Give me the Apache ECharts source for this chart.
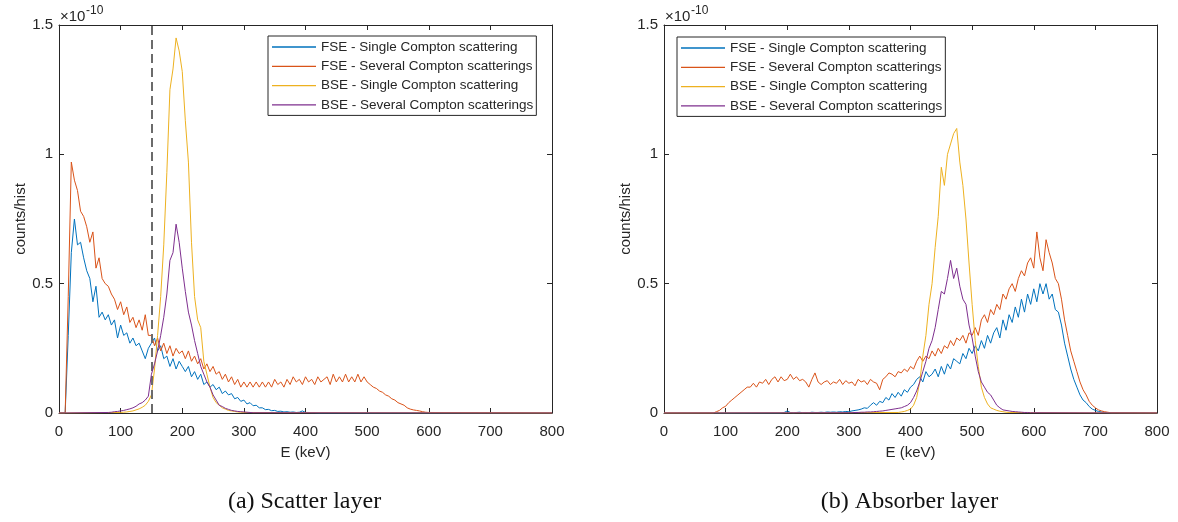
<!DOCTYPE html>
<html>
<head>
<meta charset="utf-8">
<title>Compton scattering spectra</title>
<script src="https://cdn.jsdelivr.net/npm/echarts@6/dist/echarts.min.js"></script>
<style>
  html, body { margin: 0; padding: 0; background: #ffffff; }
  #chart { width: 1178px; height: 522px; }
</style>
</head>
<body>
<div id="chart"></div>
<script>
// Energy histograms, counts per history in units of 1e-10, 5 keV bins.
const binWidth = 5;
const energyTicks = [0, 100, 200, 300, 400, 500, 600, 700, 800];
const countTicks = [0, 0.5, 1, 1.5];
const cutEnergy = [150];
const seriesNames = [
  'FSE - Single Compton scattering',
  'FSE - Several Compton scatterings',
  'BSE - Single Compton scattering',
  'BSE - Several Compton scatterings'
];
const seriesColors = ['#0072BD', '#D95319', '#EDB120', '#7E2F8E'];
const panelCaptions = ['(a) Scatter layer', '(b) Absorber layer'];

// (a) scatter layer
const scatterFseSingleStart = 10;
const scatterFseSingle = [
  0, 0.30, 0.62, 0.75, 0.65, 0.66, 0.60, 0.55, 0.52, 0.43,
  0.49, 0.37, 0.39, 0.36, 0.38, 0.34, 0.36, 0.29, 0.34, 0.30,
  0.31, 0.27, 0.29, 0.26, 0.27, 0.24, 0.21, 0.25, 0.27, 0.29,
  0.24, 0.26, 0.21, 0.22, 0.18, 0.21, 0.17, 0.20, 0.18, 0.16,
  0.18, 0.14, 0.16, 0.13, 0.15, 0.11, 0.12, 0.10, 0.11, 0.09,
  0.10, 0.075, 0.085, 0.07, 0.075, 0.055, 0.06, 0.045, 0.05, 0.035,
  0.04, 0.028, 0.03, 0.02, 0.02, 0.013, 0.014, 0.009, 0.01, 0.006,
  0.007, 0.004, 0.005, 0.003, 0.004, 0.002, 0.003, 0.008, 0.002, 0.002,
  0.001, 0.001, 0
];
const scatterFseSeveralStart = 10;
const scatterFseSeveral = [
  0, 0.45, 0.97, 0.90, 0.86, 0.78, 0.76, 0.72, 0.66, 0.70,
  0.56, 0.60, 0.52, 0.50, 0.49, 0.46, 0.44, 0.40, 0.43, 0.38,
  0.41, 0.35, 0.37, 0.33, 0.36, 0.32, 0.38, 0.30, 0.30, 0.26,
  0.29, 0.24, 0.27, 0.23, 0.26, 0.22, 0.25, 0.23, 0.24, 0.21,
  0.24, 0.20, 0.22, 0.19, 0.21, 0.17, 0.19, 0.16, 0.18, 0.15,
  0.16, 0.13, 0.15, 0.12, 0.14, 0.11, 0.13, 0.10, 0.12, 0.10,
  0.12, 0.10, 0.12, 0.10, 0.12, 0.10, 0.12, 0.10, 0.13, 0.11,
  0.12, 0.10, 0.13, 0.11, 0.14, 0.12, 0.13, 0.11, 0.14, 0.12,
  0.13, 0.11, 0.14, 0.12, 0.13, 0.14, 0.11, 0.15, 0.12, 0.14,
  0.12, 0.15, 0.12, 0.14, 0.12, 0.15, 0.12, 0.14, 0.12, 0.11,
  0.10, 0.095, 0.085, 0.08, 0.07, 0.065, 0.055, 0.05, 0.04, 0.035,
  0.03, 0.02, 0.015, 0.012, 0.01, 0.008, 0.005, 0.003, 0.002
];
const scatterBseSingleStart = 100;
const scatterBseSingle = [
  0.002, 0.003, 0.004, 0.006, 0.008, 0.012, 0.016, 0.022, 0.03, 0.045,
  0.07, 0.17, 0.30, 0.45, 0.65, 0.93, 1.25, 1.33, 1.45, 1.40,
  1.32, 1.13, 0.97, 0.66, 0.45, 0.36, 0.33, 0.20, 0.15, 0.10,
  0.06, 0.04, 0.03, 0.02, 0.015, 0.01, 0.008, 0.006, 0.004, 0.003,
  0.002
];
const scatterBseSeveralStart = 80;
const scatterBseSeveral = [
  0.002, 0.003, 0.005, 0.006, 0.008, 0.01, 0.013, 0.016, 0.02, 0.026,
  0.035, 0.04, 0.05, 0.065, 0.15, 0.19, 0.24, 0.30, 0.37, 0.46,
  0.59, 0.62, 0.73, 0.66, 0.56, 0.47, 0.39, 0.34, 0.28, 0.23,
  0.18, 0.15, 0.12, 0.10, 0.07, 0.05, 0.03, 0.025, 0.018, 0.014,
  0.01, 0.008, 0.006, 0.005, 0.004, 0.003, 0.002, 0.001
];

// (b) absorber layer
const absorberFseSingleStart = 190;
const absorberFseSingle = [
  0, 0.002, 0.008, 0.002, 0.001, 0.002, 0.003, 0.001, 0.002, 0.001,
  0.003, 0.002, 0.002, 0.003, 0.002, 0.004, 0.003, 0.004, 0.003, 0.005,
  0.004, 0.006, 0.005, 0.008, 0.01, 0.012, 0.015, 0.02, 0.018, 0.03,
  0.04, 0.03, 0.045, 0.04, 0.06, 0.05, 0.075, 0.06, 0.08, 0.065,
  0.09, 0.08, 0.10, 0.11, 0.13, 0.14, 0.12, 0.16, 0.14, 0.15,
  0.17, 0.14, 0.18, 0.15, 0.19, 0.17, 0.21, 0.20, 0.19, 0.23,
  0.21, 0.25, 0.23, 0.26, 0.24, 0.28, 0.25, 0.30, 0.27, 0.31,
  0.33, 0.29, 0.36, 0.32, 0.38, 0.35, 0.41, 0.37, 0.44, 0.39,
  0.46, 0.42, 0.48, 0.43, 0.50, 0.46, 0.50, 0.44, 0.46, 0.40,
  0.39, 0.34, 0.27, 0.22, 0.17, 0.13, 0.10, 0.07, 0.05, 0.04,
  0.025, 0.015, 0.01, 0.006, 0.004, 0.002, 0.001
];
const absorberFseSeveralStart = 80;
const absorberFseSeveral = [
  0, 0.005, 0.01, 0.02, 0.026, 0.04, 0.05, 0.06, 0.07, 0.08,
  0.09, 0.10, 0.10, 0.115, 0.10, 0.12, 0.115, 0.13, 0.11, 0.13,
  0.14, 0.12, 0.14, 0.125, 0.13, 0.15, 0.13, 0.14, 0.125, 0.13,
  0.12, 0.10, 0.13, 0.155, 0.12, 0.11, 0.12, 0.125, 0.11, 0.12,
  0.115, 0.13, 0.11, 0.125, 0.115, 0.12, 0.105, 0.13, 0.12, 0.125,
  0.11, 0.13, 0.12, 0.115, 0.09, 0.13, 0.14, 0.155, 0.15, 0.14,
  0.16, 0.155, 0.17, 0.16, 0.18, 0.17, 0.20, 0.22, 0.20, 0.22,
  0.21, 0.24, 0.22, 0.25, 0.23, 0.26, 0.25, 0.28, 0.26, 0.29,
  0.28, 0.30, 0.27, 0.31, 0.30, 0.33, 0.30, 0.36, 0.38, 0.35,
  0.40, 0.38, 0.42, 0.40, 0.46, 0.44, 0.48, 0.50, 0.47, 0.52,
  0.55, 0.53, 0.58, 0.60, 0.56, 0.70, 0.60, 0.55, 0.67, 0.62,
  0.58, 0.52, 0.50, 0.44, 0.36, 0.30, 0.24, 0.20, 0.16, 0.12,
  0.09, 0.07, 0.045, 0.03, 0.02, 0.012, 0.008, 0.005, 0.003, 0.001
];
const absorberBseSingleStart = 380;
const absorberBseSingle = [
  0.002, 0.004, 0.006, 0.01, 0.015, 0.03, 0.06, 0.12, 0.22, 0.30,
  0.42, 0.50, 0.64, 0.76, 0.95, 0.88, 1.00, 1.04, 1.08, 1.10,
  0.97, 0.88, 0.75, 0.58, 0.42, 0.28, 0.18, 0.10, 0.06, 0.035,
  0.02, 0.015, 0.01, 0.007, 0.005, 0.003, 0.002
];
const absorberBseSeveralStart = 300;
const absorberBseSeveral = [
  0.001, 0.001, 0.002, 0.002, 0.003, 0.003, 0.004, 0.004, 0.005, 0.006,
  0.007, 0.008, 0.01, 0.012, 0.014, 0.016, 0.018, 0.02, 0.025, 0.03,
  0.04, 0.06, 0.085, 0.12, 0.16, 0.20, 0.25, 0.28, 0.33, 0.40,
  0.47, 0.46, 0.52, 0.59, 0.52, 0.56, 0.49, 0.44, 0.42, 0.34,
  0.29, 0.22, 0.16, 0.12, 0.10, 0.08, 0.07, 0.05, 0.03, 0.02,
  0.012, 0.01, 0.008, 0.006, 0.005, 0.004, 0.003, 0.002, 0.002, 0.001,
  0.001
];

// Turn a binned array into [energy, value] pairs spanning the whole axis.
function toPoints(start, values) {
  const pts = [[0, 0]];
  values.forEach((v, i) => pts.push([start + i * binWidth, v]));
  pts.push([800, 0]);
  return pts;
}

const panels = [
  [
    [scatterFseSingleStart, scatterFseSingle],
    [scatterFseSeveralStart, scatterFseSeveral],
    [scatterBseSingleStart, scatterBseSingle],
    [scatterBseSeveralStart, scatterBseSeveral]
  ],
  [
    [absorberFseSingleStart, absorberFseSingle],
    [absorberFseSeveralStart, absorberFseSeveral],
    [absorberBseSingleStart, absorberBseSingle],
    [absorberBseSeveralStart, absorberBseSeveral]
  ]
];

const FONT = '"Liberation Sans", Arial, Helvetica, sans-serif';
const AX = '#262626';
const gridLefts = [59, 664];
const gridTop = 25, gridW = 493, gridH = 388;

const grids = [], xAxes = [], yAxes = [], series = [], legends = [], graphics = [];

panels.forEach((panel, p) => {
  grids.push({ left: gridLefts[p], top: gridTop, width: gridW, height: gridH, containLabel: false });
  const eMin = energyTicks[0], eMax = energyTicks[energyTicks.length - 1];
  const eStep = energyTicks[1] - energyTicks[0];
  const cMax = countTicks[countTicks.length - 1];
  const cStep = countTicks[1] - countTicks[0];
  const tick = { show: true, inside: true, length: 5, lineStyle: { color: AX, width: 1 } };
  const line = { show: true, onZero: false, lineStyle: { color: AX, width: 1 } };
  // bottom and top energy axes
  xAxes.push({
    type: 'value', gridIndex: p, position: 'bottom', min: eMin, max: eMax, interval: eStep,
    axisLine: line, axisTick: tick, splitLine: { show: false },
    axisLabel: { color: AX, fontFamily: FONT, fontSize: 15, margin: 11 },
    name: 'E (keV)', nameLocation: 'middle', nameGap: 32,
    nameTextStyle: { color: AX, fontFamily: FONT, fontSize: 15 }
  });
  xAxes.push({
    type: 'value', gridIndex: p, position: 'top', min: eMin, max: eMax, interval: eStep,
    axisLine: line, axisTick: tick, splitLine: { show: false }, axisLabel: { show: false }
  });
  // left and right count axes
  yAxes.push({
    type: 'value', gridIndex: p, position: 'left', min: 0, max: cMax, interval: cStep,
    axisLine: line, axisTick: tick, splitLine: { show: false },
    axisLabel: { color: AX, fontFamily: FONT, fontSize: 15, margin: 6,
      formatter: v => String(Math.round(v * 10) / 10) },
    name: 'counts/hist', nameLocation: 'middle', nameGap: 30,
    nameTextStyle: { color: AX, fontFamily: FONT, fontSize: 15 }
  });
  yAxes.push({
    type: 'value', gridIndex: p, position: 'right', min: 0, max: cMax, interval: cStep,
    axisLine: line, axisTick: tick, splitLine: { show: false }, axisLabel: { show: false }
  });

  panel.forEach(([start, values], k) => {
    const s = {
      type: 'line', name: seriesNames[k],
      xAxisIndex: p * 2, yAxisIndex: p * 2,
      data: toPoints(start, values),
      showSymbol: false, symbol: 'none', silent: true,
      color: seriesColors[k],
      lineStyle: { color: seriesColors[k], width: 1 },
      z: 2 + k, animation: false
    };
    if (p === 0 && k === 0) {
      s.markLine = {
        silent: true, symbol: 'none', animation: false,
        label: { show: false },
        lineStyle: { color: '#6b6b6b', type: [9, 5], width: 2 },
        data: cutEnergy.map(e => ({ xAxis: e }))
      };
    }
    series.push(s);
  });

  // exponent label above the count axis
  graphics.push({
    type: 'text', left: gridLefts[p] + 1, top: 9,
    style: { text: '×10', fill: AX, font: '15px ' + FONT }
  });
  graphics.push({
    type: 'text', left: gridLefts[p] + 27, top: 5,
    style: { text: '-10', fill: AX, font: '12px ' + FONT }
  });
  // panel caption
  graphics.push({
    type: 'text', x: gridLefts[p] + gridW / 2 - 1, y: 502,
    style: { text: panelCaptions[p], fill: '#111', font: '24px "Liberation Serif", "DejaVu Serif", serif',
      align: 'center', verticalAlign: 'middle' }
  });
});

legends.push({
  left: 268, top: 36, orient: 'vertical', data: seriesNames, selectedMode: false,
  icon: 'rect', itemWidth: 44, itemHeight: 1.3, itemGap: 4.3,
  padding: [3.5, 3, 3, 4], borderColor: AX, borderWidth: 1, backgroundColor: '#fff',
  textStyle: { color: AX, fontFamily: FONT, fontSize: 13.5, lineHeight: 15 }
});
legends.push({
  left: 677, top: 37, orient: 'vertical', data: seriesNames, selectedMode: false,
  icon: 'rect', itemWidth: 44, itemHeight: 1.3, itemGap: 4.3,
  padding: [3.5, 3, 3, 4], borderColor: AX, borderWidth: 1, backgroundColor: '#fff',
  textStyle: { color: AX, fontFamily: FONT, fontSize: 13.5, lineHeight: 15 }
});

const chart = echarts.init(document.getElementById('chart'), null, { renderer: 'canvas' });
chart.setOption({
  animation: false,
  backgroundColor: '#ffffff',
  grid: grids,
  xAxis: xAxes,
  yAxis: yAxes,
  legend: legends,
  series: series,
  graphic: graphics
});
</script>
</body>
</html>
